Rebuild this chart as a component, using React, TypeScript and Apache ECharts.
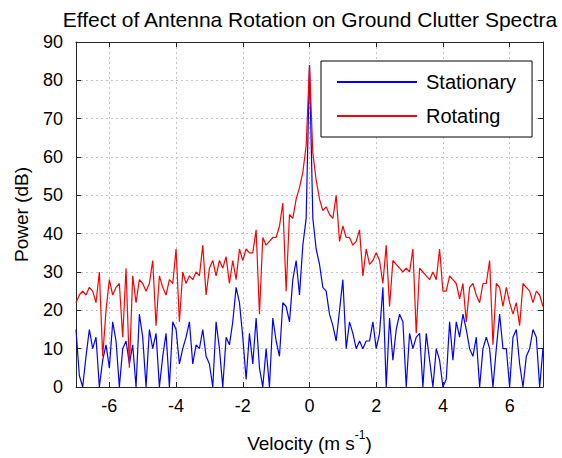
import React, { useEffect, useRef } from "react";
import * as echarts from "echarts";

// Velocity sampling grid (m/s): starts at -7, step 0.1, one sample per value below
const VELOCITY_START = -7;
const VELOCITY_STEP = 0.1;

// Stationary antenna spectrum (dB)
const stationary = [
  15, 3, 0, 8, 15, 10, 13, 0, 7, 11,
  5, 17, 12, 0, 10, 12, 6, 11, 0, 19,
  13, 0, 15, 10, 14, 0, 8, 14, 0, 17,
  15, 6, 10, 13, 17, 6, 11, 10, 15, 8,
  6, 0, 17, 10, 0, 13, 11, 17, 26, 22,
  13, 2, 14, 6, 18, 5, 0, 10, 0, 18,
  12, 8, 22, 21, 17, 28, 33, 24, 37, 44,
  84, 44, 36, 32, 26, 25, 19, 16, 12, 20,
  28, 10, 17, 14, 10, 12, 10, 12, 12, 17,
  10, 14, 26, 0, 18, 7, 15, 19, 17, 0,
  14, 10, 13, 14, 0, 14, 7, 0, 10, 7,
  0, 2, 17, 7, 17, 13, 19, 15, 10, 8,
  13, 0, 10, 13, 10, 0, 10, 19, 10, 10,
  0, 13, 15, 6, 0, 8, 10, 15, 13, 0,
  10,
];

// Rotating antenna spectrum (dB)
const rotating = [
  22, 24, 25, 24, 26, 25, 22, 30, 8, 20,
  28, 24, 26, 27, 13, 31, 5, 29, 22, 28,
  27, 25, 27, 33, 16, 29, 26, 24, 28, 27,
  36, 17, 30, 27, 29, 28, 30, 29, 37, 24,
  31, 33, 29, 33, 31, 34, 27, 33, 28, 36,
  33, 36, 35, 35, 41, 19, 39, 37, 38, 39,
  39, 42, 48, 25, 45, 44, 49, 52, 56, 63,
  84, 61, 54, 49, 46, 47, 45, 44, 50, 38,
  42, 39, 39, 37, 38, 41, 29, 36, 32, 33,
  35, 33, 27, 37, 21, 33, 32, 31, 30, 31,
  30, 36, 14, 31, 30, 29, 28, 30, 28, 36,
  25, 25, 29, 28, 27, 23, 27, 17, 26, 27,
  24, 22, 27, 27, 33, 11, 27, 26, 21, 26,
  22, 19, 22, 16, 27, 26, 25, 22, 25, 24,
  21,
];

const seriesNames = ["Stationary", "Rotating"];
const titleText = "Effect of Antenna Rotation on Ground Clutter Spectra";
const xRange = [-7, 7];
const yRange = [0, 90];
const yStep = 10;

const FONT = "'Liberation Sans', Arial, Helvetica, sans-serif";
const AXIS_COLOR = "#262626";

export default function App() {
  const ref = useRef<HTMLDivElement>(null);

  useEffect(() => {
    if (!ref.current) return;
    const chart = echarts.init(ref.current, null, { renderer: "svg" });
    const vel = (i: number) => +(VELOCITY_START + i * VELOCITY_STEP).toFixed(2);
    const stationaryData = stationary.map((p, i) => [vel(i), p]);
    const rotatingData = rotating.map((p, i) => [vel(i), p]);

    const axisLine = { show: true, onZero: false, lineStyle: { color: AXIS_COLOR, width: 1 } };
    const axisTick = { show: true, inside: true, length: 5, lineStyle: { color: AXIS_COLOR, width: 1 } };
    const splitLine = { show: true, lineStyle: { color: "#c4c4c4", width: 1, type: [2, 3] as any } };

    chart.setOption({
      animation: false,
      backgroundColor: "#fff",
      title: {
        text: titleText,
        left: 305,
        textAlign: "center",
        top: 4,
        textStyle: { fontSize: 21, fontWeight: "normal", color: "#000", fontFamily: FONT },
      },
      legend: {
        data: seriesNames,
        orient: "vertical",
        left: 321,
        top: 61,
        padding: [11, 16, 11, 16],
        itemGap: 14,
        itemWidth: 80,
        itemHeight: 2,
        icon: "rect",
        borderColor: "#000",
        borderWidth: 1,
        backgroundColor: "#fff",
        textStyle: { fontSize: 20, color: "#000", fontFamily: FONT, padding: [0, 0, 0, 4] },
      },
      grid: { left: 76, right: 19, top: 42, bottom: 69, containLabel: false },
      xAxis: [
        {
          type: "value",
          min: xRange[0],
          max: xRange[1],
          splitNumber: 7,
          position: "bottom",
          axisLine,
          axisTick,
          splitLine,
          axisLabel: {
            fontSize: 18,
            color: "#000",
            fontFamily: FONT,
            margin: 10,
            formatter: (v: number) => (Math.abs(v) === 7 ? "" : String(v)),
          },
          name: "{a|Velocity (m s}{b|-1}{a|)}",
          nameLocation: "middle",
          nameGap: 42,
          nameTextStyle: {
            rich: {
              a: { fontSize: 19, color: "#000", fontFamily: FONT, lineHeight: 24, verticalAlign: "bottom" },
              b: { fontSize: 12, color: "#000", fontFamily: FONT, lineHeight: 24, verticalAlign: "top" },
            },
          },
        },
        {
          type: "value",
          min: xRange[0],
          max: xRange[1],
          splitNumber: 7,
          position: "top",
          axisLine,
          axisTick,
          splitLine: { show: false },
          axisLabel: { show: false },
        },
      ],
      yAxis: [
        {
          type: "value",
          min: yRange[0],
          max: yRange[1],
          interval: yStep,
          position: "left",
          axisLine,
          axisTick,
          splitLine,
          axisLabel: { fontSize: 18, color: "#000", fontFamily: FONT, margin: 13 },
          name: "Power (dB)",
          nameLocation: "middle",
          nameGap: 45,
          nameTextStyle: { fontSize: 19, color: "#000", fontFamily: FONT },
        },
        {
          type: "value",
          min: yRange[0],
          max: yRange[1],
          interval: yStep,
          position: "right",
          axisLine,
          axisTick,
          splitLine: { show: false },
          axisLabel: { show: false },
        },
      ],
      series: [
        {
          name: seriesNames[0],
          type: "line",
          data: stationaryData,
          xAxisIndex: 0,
          yAxisIndex: 0,
          showSymbol: false,
          symbol: "none",
          lineStyle: { color: "#0000ff", width: 1.2 },
          itemStyle: { color: "#0000ff" },
          z: 2,
        },
        {
          name: seriesNames[1],
          type: "line",
          data: rotatingData,
          xAxisIndex: 0,
          yAxisIndex: 0,
          showSymbol: false,
          symbol: "none",
          lineStyle: { color: "#ff0000", width: 1.2 },
          itemStyle: { color: "#ff0000" },
          z: 3,
        },
      ],
    });
    return () => chart.dispose();
  }, []);

  return (
    <div
      ref={ref}
      style={{ position: "fixed", left: 0, top: 0, width: 562, height: 458 }}
    />
  );
}
